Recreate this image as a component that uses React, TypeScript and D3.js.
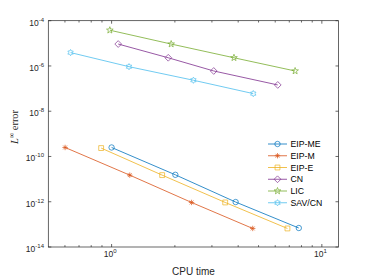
import { useEffect, useRef } from "react";
import * as d3 from "d3";

// ── Data ──────────────────────────────────────────────────────────────────────

const SERIES_NAMES = ["EIP-ME", "EIP-M", "EIP-E", "CN", "LIC", "SAV/CN"];

const EIP_ME_TIME  = [1.0, 2.01, 3.89, 7.77];
const EIP_ME_ERROR = [2.5e-10, 1.55e-11, 9.7e-13, 6.9e-14];

const EIP_M_TIME   = [0.601, 1.22, 2.4, 4.69];
const EIP_M_ERROR  = [2.5e-10, 1.5e-11, 9.3e-13, 6.6e-14];

const EIP_E_TIME   = [0.892, 1.74, 3.47, 6.86];
const EIP_E_ERROR  = [2.35e-10, 1.5e-11, 9.3e-13, 6.6e-14];

const CN_TIME      = [1.075, 1.86, 3.06, 6.17];
const CN_ERROR     = [9.3e-6, 2.3e-6, 6.0e-7, 1.45e-7];

const LIC_TIME     = [0.981, 1.92, 3.82, 7.46];
const LIC_ERROR    = [3.8e-5, 9.3e-6, 2.3e-6, 6.0e-7];

const SAV_TIME     = [0.638, 1.21, 2.45, 4.72];
const SAV_ERROR    = [3.9e-6, 9.3e-7, 2.34e-7, 6.0e-8];

const Y_TICKS = [-14, -12, -10, -8, -6, -4];
const X_TICKS = [0, 1];

// ── Config ────────────────────────────────────────────────────────────────────

const COLORS  = ["#0072BD", "#D95319", "#EDB120", "#7E2F8E", "#77AC30", "#4DBEEE"];
const MARKERS = ["circle", "asterisk", "square", "diamond", "pentagram", "hexagram"];

const W = 374;
const H = 280;
const PLOT = { left: 48.3, right: 338.5, top: 20.7, bottom: 247 };
const X_DOMAIN: [number, number] = [0.5, 12];
const AXIS_COLOR = "#262626";
const SANS = "'Liberation Sans', Arial, sans-serif";
const SERIF = "'Liberation Serif', 'Times New Roman', serif";

// marker path centred at 0,0
const markerPath = (kind: string, r: number): string => {
  if (kind === "circle") {
    return `M${r},0A${r},${r} 0 1,1 ${-r},0A${r},${r} 0 1,1 ${r},0Z`;
  }
  if (kind === "square") {
    const s = r * 0.9;
    return `M${-s},${-s}H${s}V${s}H${-s}Z`;
  }
  if (kind === "diamond") {
    const s = r * 1.25;
    return `M0,${-s}L${s},0L0,${s}L${-s},0Z`;
  }
  if (kind === "asterisk") {
    const p: string[] = [];
    for (let i = 0; i < 4; i++) {
      const a = (i * Math.PI) / 4;
      const dx = Math.cos(a) * r, dy = Math.sin(a) * r;
      p.push(`M${-dx},${-dy}L${dx},${dy}`);
    }
    return p.join("");
  }
  const n = kind === "pentagram" ? 5 : 6;
  const outer = kind === "pentagram" ? r * 1.3 : r * 1.15;
  const inner = kind === "pentagram" ? outer * 0.42 : outer * 0.58;
  const pts: string[] = [];
  for (let i = 0; i < n * 2; i++) {
    const a = -Math.PI / 2 + (i * Math.PI) / n;
    const rr = i % 2 === 0 ? outer : inner;
    pts.push(`${Math.cos(a) * rr},${Math.sin(a) * rr}`);
  }
  return `M${pts.join("L")}Z`;
};

// ── Component ─────────────────────────────────────────────────────────────────

const App = () => {
  const svgRef = useRef<SVGSVGElement>(null);

  useEffect(() => {
    if (!svgRef.current) return;
    document.body.style.margin = "0";

    const svg = d3.select(svgRef.current);
    svg.selectAll("*").remove();

    const times  = [EIP_ME_TIME, EIP_M_TIME, EIP_E_TIME, CN_TIME, LIC_TIME, SAV_TIME];
    const errors = [EIP_ME_ERROR, EIP_M_ERROR, EIP_E_ERROR, CN_ERROR, LIC_ERROR, SAV_ERROR];

    const x = d3.scaleLog().domain(X_DOMAIN).range([PLOT.left, PLOT.right]);
    const y = d3.scaleLog().domain([1e-14, 1e-4]).range([PLOT.bottom, PLOT.top]);

    svg.append("rect")
      .attr("width", W).attr("height", H).attr("fill", "#ffffff");

    // Box
    svg.append("rect")
      .attr("x", PLOT.left).attr("y", PLOT.top)
      .attr("width", PLOT.right - PLOT.left)
      .attr("height", PLOT.bottom - PLOT.top)
      .attr("fill", "none")
      .attr("stroke", AXIS_COLOR)
      .attr("stroke-width", 0.7);

    // X ticks (major + minor, bottom and top)
    const xMinor: number[] = [];
    for (let e = -1; e <= 1; e++) {
      for (let m = 1; m < 10; m++) {
        const v = m * Math.pow(10, e);
        if (v > X_DOMAIN[0] && v < X_DOMAIN[1]) xMinor.push(v);
      }
    }
    const ticks = svg.append("g").attr("stroke", AXIS_COLOR).attr("stroke-width", 0.7);
    xMinor.forEach((v) => {
      const major = Math.abs(Math.log10(v) - Math.round(Math.log10(v))) < 1e-9;
      const len = major ? 3 : 1.8;
      ticks.append("line")
        .attr("x1", x(v)).attr("x2", x(v))
        .attr("y1", PLOT.bottom).attr("y2", PLOT.bottom - len);
      ticks.append("line")
        .attr("x1", x(v)).attr("x2", x(v))
        .attr("y1", PLOT.top).attr("y2", PLOT.top + len);
    });
    Y_TICKS.forEach((e) => {
      const yy = y(Math.pow(10, e));
      ticks.append("line")
        .attr("x1", PLOT.left).attr("x2", PLOT.left + 3)
        .attr("y1", yy).attr("y2", yy);
      ticks.append("line")
        .attr("x1", PLOT.right).attr("x2", PLOT.right - 3)
        .attr("y1", yy).attr("y2", yy);
    });

    // Tick labels
    X_TICKS.forEach((e) => {
      const t = svg.append("text")
        .attr("x", x(Math.pow(10, e)) - 1.5)
        .attr("y", 257)
        .attr("text-anchor", "middle")
        .attr("font-family", SANS)
        .attr("font-size", 8.5)
        .attr("fill", AXIS_COLOR);
      t.append("tspan").text("10");
      t.append("tspan").attr("dy", -4).attr("font-size", 6).text(`${e}`);
    });
    Y_TICKS.forEach((e) => {
      const t = svg.append("text")
        .attr("x", 44)
        .attr("y", y(Math.pow(10, e)) + 5)
        .attr("text-anchor", "end")
        .attr("font-family", SANS)
        .attr("font-size", 8.5)
        .attr("fill", AXIS_COLOR);
      t.append("tspan").text("10");
      t.append("tspan").attr("dy", -4).attr("font-size", 6).text(`${e}`);
    });

    // Axis labels
    svg.append("text")
      .attr("x", (PLOT.left + PLOT.right) / 2)
      .attr("y", 275)
      .attr("text-anchor", "middle")
      .attr("font-family", SANS)
      .attr("font-size", 10)
      .attr("fill", AXIS_COLOR)
      .text("CPU time");

    const yl = svg.append("text")
      .attr("transform", `translate(18,127) rotate(-90)`)
      .attr("text-anchor", "middle")
      .attr("font-family", SERIF)
      .attr("font-size", 10.5)
      .attr("fill", AXIS_COLOR);
    yl.append("tspan").attr("font-style", "italic").text("L");
    yl.append("tspan").attr("dy", -4).attr("font-size", 7.5).text("∞");
    yl.append("tspan").attr("dy", 4).text(" error");

    // Series
    const line = d3.line<[number, number]>()
      .x((d) => x(d[0]))
      .y((d) => y(d[1]));

    times.forEach((ts, i) => {
      const pts = ts.map((t, j) => [t, errors[i][j]] as [number, number]);
      const g = svg.append("g");
      g.append("path")
        .datum(pts)
        .attr("d", line)
        .attr("fill", "none")
        .attr("stroke", COLORS[i])
        .attr("stroke-width", 0.8);
      g.selectAll("path.mk")
        .data(pts)
        .join("path")
        .attr("class", "mk")
        .attr("transform", (d) => `translate(${x(d[0])},${y(d[1])})`)
        .attr("d", markerPath(MARKERS[i], 2.7))
        .attr("fill", "none")
        .attr("stroke", COLORS[i])
        .attr("stroke-width", 0.7);
    });

    // Legend
    const legend = svg.append("g");
    SERIES_NAMES.forEach((name, i) => {
      const ly = 144 + i * 11.75;
      legend.append("line")
        .attr("x1", 268).attr("x2", 287)
        .attr("y1", ly).attr("y2", ly)
        .attr("stroke", COLORS[i])
        .attr("stroke-width", 0.8);
      legend.append("path")
        .attr("transform", `translate(277.5,${ly})`)
        .attr("d", markerPath(MARKERS[i], 2.7))
        .attr("fill", "none")
        .attr("stroke", COLORS[i])
        .attr("stroke-width", 0.7);
      legend.append("text")
        .attr("x", 290.5)
        .attr("y", ly + 3.1)
        .attr("font-family", SANS)
        .attr("font-size", 8.7)
        .attr("fill", "#000000")
        .text(name);
    });
  }, []);

  return <svg ref={svgRef} width={W} height={H} style={{ display: "block" }} />;
};

export default App;
